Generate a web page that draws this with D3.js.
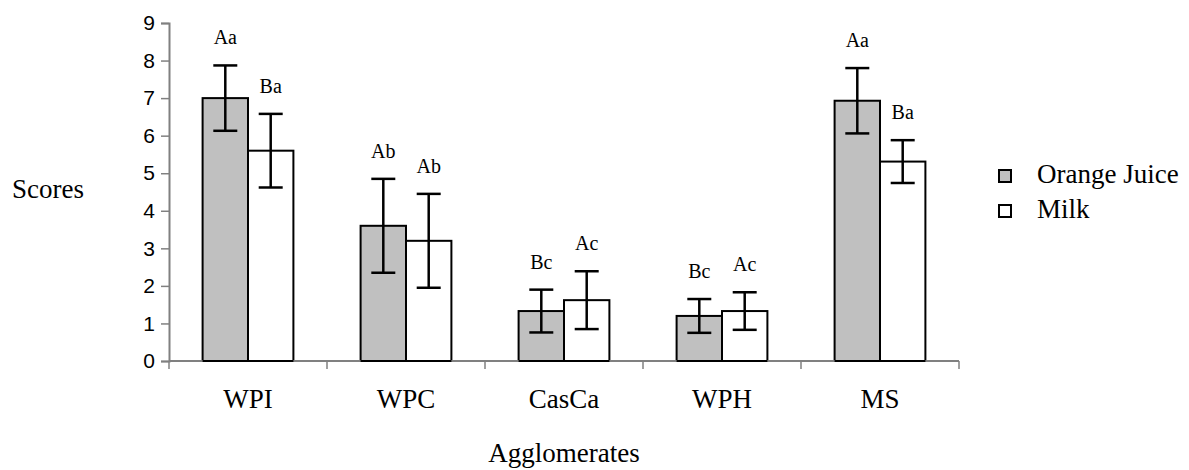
<!DOCTYPE html>
<html>
<head>
<meta charset="utf-8">
<script src="https://cdn.jsdelivr.net/npm/d3@7"></script>
<style>
  body { margin: 0; background: #fff; }
  .serif { font-family: "Liberation Serif", "Times New Roman", serif; }
  .sans { font-family: "Liberation Sans", Arial, sans-serif; }
</style>
</head>
<body>
<svg id="chart"></svg>
<script>
// data
var categories = ['WPI', 'WPC', 'CasCa', 'WPH', 'MS'];
var series = ['Orange Juice', 'Milk'];
var orangeMeans = [7.0, 3.6, 1.33, 1.2, 6.93];
var orangeErr = [0.87, 1.25, 0.57, 0.45, 0.87];
var milkMeans = [5.6, 3.2, 1.62, 1.33, 5.31];
var milkErr = [0.98, 1.25, 0.77, 0.5, 0.57];
var orangeLetters = ['Aa', 'Ab', 'Bc', 'Bc', 'Aa'];
var milkLetters = ['Ba', 'Ab', 'Ac', 'Ac', 'Ba'];
var yTicks = [0, 1, 2, 3, 4, 5, 6, 7, 8, 9];

var W = 1189, H = 470;
var margin = {top: 23, left: 169, right: 230, bottom: 109};
var fills = ['#c0c0c0', '#ffffff'];

var svg = d3.select('#chart').attr('width', W).attr('height', H);

var x = d3.scaleBand()
    .domain(categories)
    .range([margin.left, W - margin.right])
    .padding(0);

var x1 = d3.scaleBand()
    .domain(series)
    .range([0, x.bandwidth()])
    .paddingInner(0)
    .paddingOuter(0.74);

var y = d3.scaleLinear()
    .domain([0, 9])
    .range([H - margin.bottom, margin.top]);

// flatten into rows for drawing
var rows = [];
categories.forEach(function(c, i) {
    rows.push({cat: c, s: series[0], v: orangeMeans[i], e: orangeErr[i], lab: orangeLetters[i], k: 0});
    rows.push({cat: c, s: series[1], v: milkMeans[i], e: milkErr[i], lab: milkLetters[i], k: 1});
});

// bars
svg.selectAll('rect.bar')
    .data(rows)
    .enter()
    .append('rect')
        .attr('class', 'bar')
        .attr('x', function(d) { return x(d.cat) + x1(d.s); })
        .attr('width', x1.bandwidth())
        .attr('y', function(d) { return y(d.v); })
        .attr('height', function(d) { return y(0) - y(d.v); })
        .attr('fill', function(d) { return fills[d.k]; })
        .attr('stroke', '#000')
        .attr('stroke-width', 2);

// axes
var yAxis = svg.append('g')
    .attr('transform', 'translate(' + margin.left + ',0)')
    .call(d3.axisLeft(y).tickValues(yTicks).tickSize(8).tickPadding(6).tickFormat(d3.format('d')));
yAxis.attr('font-family', null).attr('font-size', null);
yAxis.select('.domain').attr('stroke', '#808080').attr('stroke-width', 2);
yAxis.selectAll('.tick line').attr('stroke', '#808080').attr('stroke-width', 1.5);
yAxis.selectAll('text')
    .attr('class', 'sans')
    .attr('fill', '#000')
    .style('font-size', '21px');

var xEdges = categories.map(function(c) { return x(c); }).concat([x.range()[1]]);
var xAxis = svg.append('g');
xAxis.append('line')
    .attr('x1', x.range()[0]).attr('x2', x.range()[1])
    .attr('y1', y(0)).attr('y2', y(0))
    .attr('stroke', '#808080').attr('stroke-width', 2);
xAxis.selectAll('line.xt')
    .data(xEdges)
    .enter()
    .append('line')
        .attr('class', 'xt')
        .attr('x1', function(d) { return d; }).attr('x2', function(d) { return d; })
        .attr('y1', y(0)).attr('y2', y(0) + 8)
        .attr('stroke', '#808080').attr('stroke-width', 1.5);

// redraw bar bottoms over axis
svg.selectAll('line.bb')
    .data(rows)
    .enter()
    .append('line')
        .attr('x1', function(d) { return x(d.cat) + x1(d.s); })
        .attr('x2', function(d) { return x(d.cat) + x1(d.s) + x1.bandwidth(); })
        .attr('y1', y(0)).attr('y2', y(0))
        .attr('stroke', '#000').attr('stroke-width', 2);

svg.selectAll('text.cat')
    .data(categories)
    .enter()
    .append('text')
        .attr('class', 'serif')
        .attr('x', function(d) { return x(d) + x.bandwidth() / 2; })
        .attr('y', 408)
        .attr('text-anchor', 'middle')
        .style('font-size', '27px')
        .text(function(d) { return d; });

// error bars
var cx = function(d) { return x(d.cat) + x1(d.s) + x1.bandwidth() / 2; };
var eb = svg.selectAll('g.err')
    .data(rows)
    .enter()
    .append('g')
        .attr('stroke', '#000')
        .attr('stroke-width', 2.5);
eb.append('line')
    .attr('x1', cx).attr('x2', cx)
    .attr('y1', function(d) { return y(d.v + d.e); })
    .attr('y2', function(d) { return y(d.v - d.e); });
eb.append('line')
    .attr('x1', function(d) { return cx(d) - 12; }).attr('x2', function(d) { return cx(d) + 12; })
    .attr('y1', function(d) { return y(d.v + d.e); })
    .attr('y2', function(d) { return y(d.v + d.e); });
eb.append('line')
    .attr('x1', function(d) { return cx(d) - 12; }).attr('x2', function(d) { return cx(d) + 12; })
    .attr('y1', function(d) { return y(d.v - d.e); })
    .attr('y2', function(d) { return y(d.v - d.e); });

// significance letters
svg.selectAll('text.lab')
    .data(rows)
    .enter()
    .append('text')
        .attr('class', 'serif')
        .attr('x', cx)
        .attr('y', function(d) { return y(d.v + d.e) - 21; })
        .attr('text-anchor', 'middle')
        .style('font-size', '20px')
        .text(function(d) { return d.lab; });

// axis titles
svg.append('text')
    .attr('class', 'serif')
    .attr('x', 12).attr('y', 198)
    .style('font-size', '27px')
    .text('Scores');

svg.append('text')
    .attr('class', 'serif')
    .attr('x', (x.range()[0] + x.range()[1]) / 2).attr('y', 462)
    .attr('text-anchor', 'middle')
    .style('font-size', '27px')
    .text('Agglomerates');

// legend
var legend = svg.selectAll('g.leg')
    .data(series)
    .enter()
    .append('g')
        .attr('transform', function(d, i) { return 'translate(999,' + (170 + i * 35) + ')'; });
legend.append('rect')
    .attr('width', 12).attr('height', 12)
    .attr('fill', function(d, i) { return fills[i]; })
    .attr('stroke', '#000').attr('stroke-width', 2);
legend.append('text')
    .attr('class', 'serif')
    .attr('x', 38).attr('y', 13)
    .style('font-size', '27px')
    .text(function(d) { return d; });
</script>
</body>
</html>
